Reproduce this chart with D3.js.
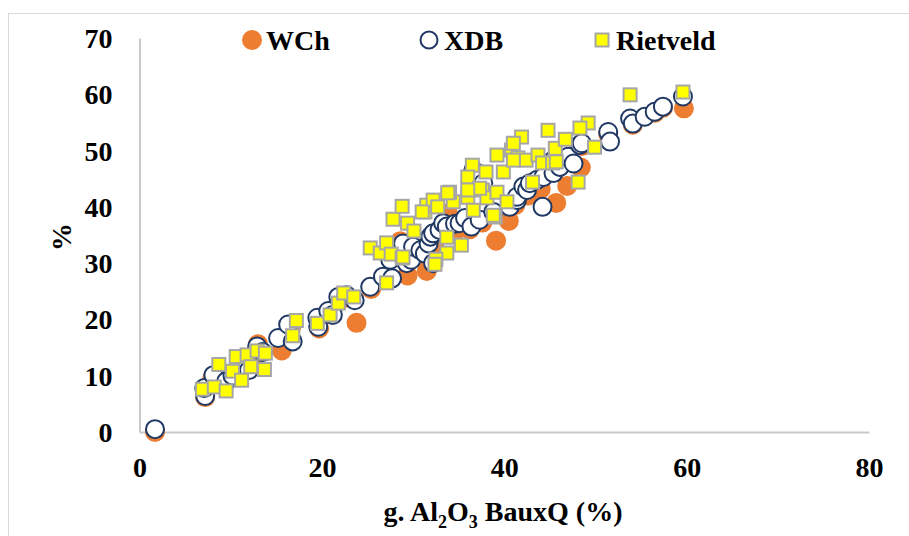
<!DOCTYPE html>
<html>
<head>
<meta charset="utf-8">
<script src="https://cdn.jsdelivr.net/npm/d3@7"></script>
<style>
  body { margin: 0; background: #fff; }
  svg text { font-family: "Liberation Serif", "Times New Roman", serif; font-weight: bold; fill: #000; }
</style>
</head>
<body>
<div id="chart-area"></div>
<script>
// SVG size
var width = 909,
	height = 536;

// axis ticks
var xTicks = [0, 20, 40, 60, 80];
var yTicks = [0, 10, 20, 30, 40, 50, 60, 70];

var seriesNames = ["WCh", "XDB", "Rietveld"];

// WCh (orange dots)
var wchData = [
	[1.7, 0.0], [7.2, 6.2], [8.0, 9.6], [10.3, 10.4], [12.4, 13.0], [13.0, 15.6],
	[15.6, 14.5], [16.6, 18.4], [19.7, 18.4], [20.8, 21.2], [22.5, 23.8], [23.8, 19.4],
	[25.4, 25.4], [27.0, 27.2], [28.6, 33.9], [29.4, 27.8], [31.5, 28.6], [32.3, 33.2],
	[33.8, 38.8], [34.6, 35.6], [36.2, 36.0], [37.6, 37.2], [39.1, 34.0], [40.5, 37.5],
	[41.2, 40.3], [42.6, 42.0], [44.0, 43.2], [45.7, 40.7], [46.9, 43.7], [48.4, 47.0],
	[48.5, 50.8], [51.4, 53.0], [54.1, 54.6], [56.5, 56.7], [57.4, 57.6], [59.7, 57.5]
];

// XDB (open circles)
var xdbData = [
	[1.7, 0.5], [7.2, 6.4], [7.1, 7.8], [8.1, 10.1], [9.5, 9.0], [10.2, 10.0],
	[11.5, 12.3], [12.0, 11.0], [12.9, 15.2], [13.5, 14.2], [15.2, 16.7], [16.3, 19.1],
	[16.8, 16.1], [19.6, 18.7], [19.5, 20.3], [20.7, 21.5], [21.2, 20.8], [21.8, 24.0],
	[22.7, 24.3], [23.6, 23.4], [25.3, 25.8], [26.7, 27.6], [27.7, 27.3], [27.5, 30.6],
	[28.9, 32.3], [28.9, 33.5], [29.3, 30.0], [29.8, 30.6], [30.0, 32.9], [30.8, 32.3],
	[31.3, 31.7], [31.7, 33.5], [31.9, 34.7], [32.2, 35.3], [32.2, 30.0], [32.9, 35.9],
	[33.3, 37.1], [33.7, 36.5], [34.6, 37.0], [35.1, 37.1], [35.7, 38.0], [36.4, 36.5],
	[37.3, 37.7], [36.6, 46.5], [37.4, 45.8], [37.7, 44.2], [38.8, 39.1], [40.6, 40.0],
	[41.4, 41.2], [41.4, 41.8], [42.1, 43.6], [42.5, 43.0], [42.8, 44.2], [43.6, 44.8],
	[44.3, 45.3], [44.2, 40.0], [45.4, 46.0], [45.4, 48.3], [46.1, 47.1], [47.0, 48.9],
	[47.6, 47.7], [48.3, 51.0], [48.5, 51.3], [51.4, 53.3], [51.6, 51.6], [53.8, 55.7],
	[54.1, 54.8], [55.4, 56.0], [56.5, 56.9], [57.4, 57.8], [59.6, 59.6]
];

// Rietveld (yellow squares)
var rietveldData = [
	[6.9, 7.6], [8.2, 8.0], [9.5, 7.3], [8.7, 12.0], [10.2, 10.8], [10.6, 13.4],
	[11.2, 9.2], [11.8, 13.7], [12.2, 11.6], [12.9, 14.4], [13.7, 11.1], [13.8, 14.0],
	[16.8, 17.1], [17.2, 19.8], [19.5, 19.3], [20.9, 20.8], [21.8, 22.9], [22.4, 24.7],
	[23.5, 24.0], [27.1, 26.5], [25.3, 32.7], [26.4, 31.8], [27.1, 33.6], [27.6, 31.6],
	[28.8, 30.9], [27.8, 37.8], [28.8, 40.1], [29.4, 37.1], [30.1, 35.7], [31.3, 39.1],
	[31.5, 40.3], [33.7, 34.6], [33.7, 31.8], [32.5, 30.7], [32.4, 29.8], [34.4, 40.9],
	[32.2, 41.2], [34.0, 42.6], [36.0, 41.7], [36.6, 39.4], [36.5, 47.4], [38.0, 46.2],
	[37.6, 43.0], [38.1, 41.6], [39.2, 42.6], [39.0, 38.2], [40.3, 40.9], [39.9, 46.2],
	[39.2, 49.2], [40.8, 50.1], [41.5, 48.7], [41.9, 52.4], [42.4, 48.3], [43.7, 49.2],
	[44.2, 47.8], [45.6, 50.4], [44.8, 53.6], [43.1, 44.4], [35.3, 33.2], [28.9, 31.1],
	[53.8, 59.9], [59.6, 60.4], [49.2, 54.9], [48.3, 54.0], [46.7, 52.0], [49.9, 50.6],
	[48.1, 44.4], [41.0, 51.3], [41.0, 48.3], [36.0, 45.3], [37.3, 43.3], [38.8, 38.5],
	[36.0, 43.0], [33.8, 42.5], [32.7, 40.0], [31.0, 39.1], [45.3, 47.8], [45.7, 48.0]
];

var svg = d3.select("#chart-area").append("svg")
	.attr("width", width)
	.attr("height", height);

// outer chart frame
svg.append("rect")
	.attr("x", 8.5).attr("y", 13.5)
	.attr("width", 1000).attr("height", 1000)
	.attr("fill", "none")
	.attr("stroke", "#d9d9d9");

var xScale = d3.scaleLinear().domain([0, 80]).range([139.5, 869]);
var yScale = d3.scaleLinear().domain([0, 70]).range([432, 38]);

// axes (no tick marks, just line + labels)
var xAxis = d3.axisBottom(xScale).tickValues(xTicks).tickSize(0).tickFormat(d3.format("d"));
var yAxis = d3.axisLeft(yScale).tickValues(yTicks).tickSize(0).tickPadding(27).tickFormat(d3.format("d"));

var gx = svg.append("g")
	.attr("transform", "translate(0," + yScale(0) + ")")
	.call(xAxis);
gx.selectAll("text")
	.attr("y", 45).attr("dy", 0)
	.style("font-size", "28px");

var gy = svg.append("g")
	.attr("transform", "translate(" + xScale(0) + ",0)")
	.call(yAxis);
gy.selectAll("text")
	.attr("dy", "0.34em")
	.style("font-size", "28px");

svg.selectAll(".domain")
	.attr("stroke", "#c9c9c9")
	.attr("stroke-width", 2);

// points: WCh first, then XDB, Rietveld on top
svg.append("g").selectAll("circle")
	.data(wchData)
	.enter()
	.append("circle")
	.attr("cx", function(d) { return xScale(d[0]); })
	.attr("cy", function(d) { return yScale(d[1]); })
	.attr("r", 10)
	.attr("fill", "#ed7d31");

svg.append("g").selectAll("circle")
	.data(xdbData)
	.enter()
	.append("circle")
	.attr("cx", function(d) { return xScale(d[0]); })
	.attr("cy", function(d) { return yScale(d[1]); })
	.attr("r", 9)
	.attr("fill", "#fff")
	.attr("stroke", "#203864")
	.attr("stroke-width", 2);

svg.append("g").selectAll("rect")
	.data(rietveldData)
	.enter()
	.append("rect")
	.attr("x", function(d) { return xScale(d[0]) - 6.5; })
	.attr("y", function(d) { return yScale(d[1]) - 6.5; })
	.attr("width", 13)
	.attr("height", 13)
	.attr("fill", "#ffff00")
	.attr("stroke", "#a6a6a6")
	.attr("stroke-width", 2);

// legend
var legend = svg.append("g");
legend.append("circle").attr("cx", 252).attr("cy", 40).attr("r", 10).attr("fill", "#ed7d31");
legend.append("circle").attr("cx", 429).attr("cy", 40).attr("r", 8.5)
	.attr("fill", "#fff").attr("stroke", "#203864").attr("stroke-width", 2);
legend.append("rect").attr("x", 595.5).attr("y", 33.5).attr("width", 13).attr("height", 13)
	.attr("fill", "#ffff00").attr("stroke", "#a6a6a6").attr("stroke-width", 2);

var legendX = [266, 444, 616];
legend.selectAll("text")
	.data(seriesNames)
	.enter()
	.append("text")
	.attr("x", function(d, i) { return legendX[i]; })
	.attr("y", 50)
	.style("font-size", "28px")
	.text(function(d) { return d; });

// axis titles
var xTitle = svg.append("text")
	.attr("x", 503)
	.attr("y", 521)
	.attr("text-anchor", "middle")
	.style("font-size", "28px");
xTitle.append("tspan").text("g. Al");
xTitle.append("tspan").attr("dy", 7).style("font-size", "18px").text("2");
xTitle.append("tspan").attr("dy", -7).text("O");
xTitle.append("tspan").attr("dy", 7).style("font-size", "18px").text("3");
xTitle.append("tspan").attr("dy", -7).text(" BauxQ (%)");

svg.append("text")
	.attr("transform", "translate(71,237) rotate(-90)")
	.attr("text-anchor", "middle")
	.style("font-size", "28px")
	.text("%");
</script>
</body>
</html>
